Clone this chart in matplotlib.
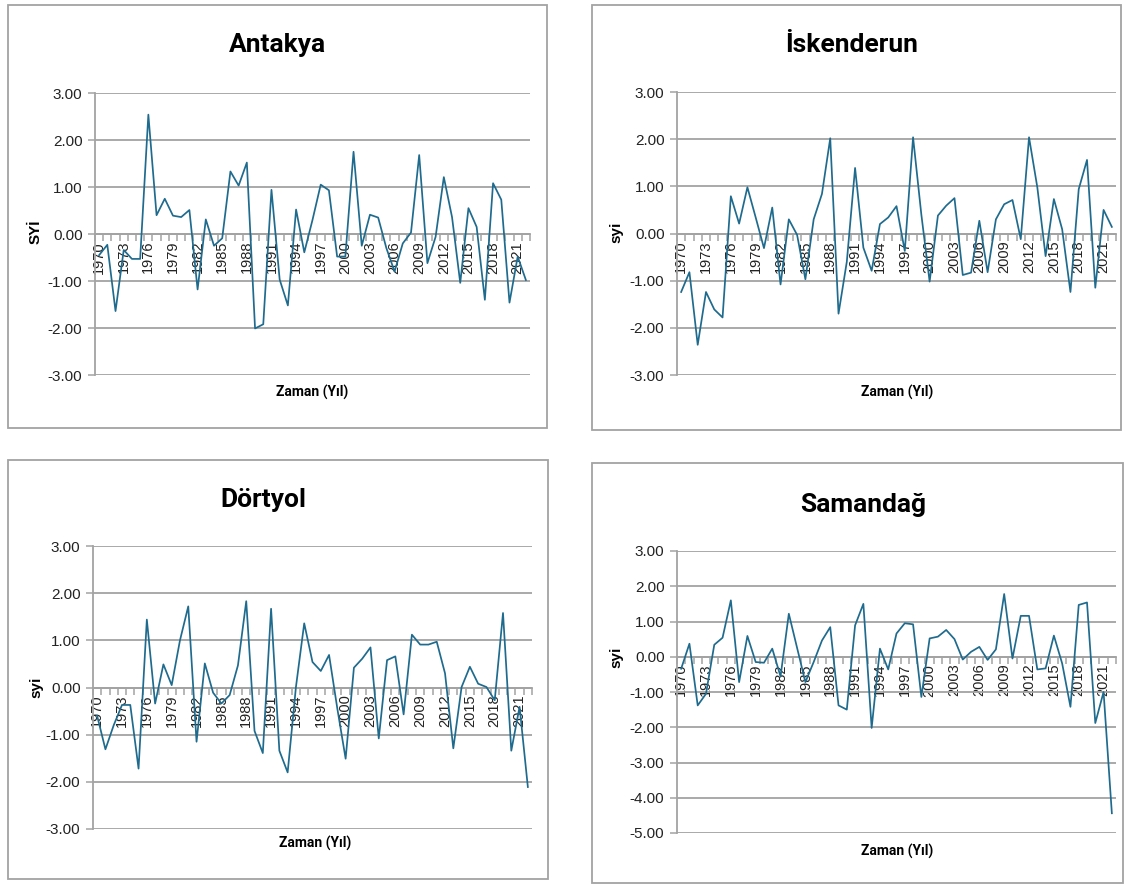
import matplotlib
matplotlib.use("Agg")
import matplotlib.pyplot as plt
from matplotlib.patches import Rectangle
from matplotlib.ticker import MultipleLocator, FixedLocator, NullFormatter

# Yearly SYI values (1970-2022)
years = list(range(1970, 2023))

antakya = [-0.45, -0.23, -1.64, -0.34, -0.53, -0.53, 2.54, 0.40, 0.75, 0.39,
           0.36, 0.51, -1.18, 0.31, -0.25, -0.09, 1.33, 1.03, 1.52, -2.01,
           -1.92, 0.94, -0.97, -1.52, 0.52, -0.39, 0.30, 1.05, 0.93, -0.48,
           -0.48, 1.75, -0.25, 0.41, 0.35, -0.30, -0.80, -0.20, 0.03, 1.68,
           -0.62, -0.06, 1.21, 0.36, -1.04, 0.55, 0.15, -1.40, 1.08, 0.73,
           -1.46, -0.48, -0.98]

iskenderun = [-1.24, -0.82, -2.36, -1.24, -1.61, -1.78, 0.79, 0.21, 0.98, 0.34,
              -0.31, 0.55, -1.08, 0.30, -0.03, -0.97, 0.30, 0.84, 2.02, -1.70,
              -0.60, 1.39, -0.30, -0.79, 0.20, 0.34, 0.58, -0.37, 2.04, 0.40,
              -1.02, 0.38, 0.59, 0.75, -0.88, -0.83, 0.27, -0.82, 0.30, 0.62,
              0.71, -0.12, 2.04, 0.98, -0.48, 0.73, 0.09, -1.24, 0.94, 1.56,
              -1.15, 0.50, 0.14]

dortyol = [-0.60, -1.31, -0.80, -0.37, -0.37, -1.72, 1.44, -0.34, 0.49, 0.05,
           1.00, 1.72, -1.15, 0.51, -0.11, -0.34, -0.16, 0.47, 1.83, -0.92,
           -1.39, 1.67, -1.34, -1.80, 0.01, 1.36, 0.54, 0.35, 0.69, -0.45,
           -1.51, 0.42, 0.61, 0.85, -1.08, 0.58, 0.66, -0.57, 1.12, 0.91,
           0.91, 0.97, 0.30, -1.29, 0.01, 0.44, 0.08, 0.01, -0.27, 1.58,
           -1.34, -0.41, -2.11]

samandag = [-0.34, 0.37, -1.38, -1.05, 0.34, 0.54, 1.60, -0.72, 0.59, -0.15,
            -0.17, 0.23, -0.56, 1.22, 0.25, -0.72, -0.15, 0.46, 0.84, -1.38,
            -1.50, 0.89, 1.50, -2.02, 0.23, -0.36, 0.66, 0.95, 0.92, -1.14,
            0.52, 0.57, 0.76, 0.50, -0.08, 0.14, 0.28, -0.09, 0.21, 1.78,
            -0.05, 1.16, 1.16, -0.36, -0.33, 0.60, -0.19, -1.42, 1.47, 1.54,
            -1.88, -1.00, -4.44]

W, H = 1125, 884
LINE = "#1f6b8e"
GRID = "#a3a3a3"
NARROW = ["Liberation Sans Narrow", "DejaVu Sans Condensed", "Roboto", "DejaVu Sans"]
plt.rcParams["font.family"] = ["Liberation Sans", "DejaVu Sans"]

fig = plt.figure(figsize=(W / 100, H / 100), dpi=100)


def px_rect(left, top, right, bottom):
    return [left / W, 1 - bottom / H, (right - left) / W, (bottom - top) / H]


def box(left, top, right, bottom):
    fig.patches.append(Rectangle((left / W, 1 - bottom / H), (right - left) / W,
                                 (bottom - top) / H, transform=fig.transFigure,
                                 fill=False, edgecolor=GRID, linewidth=1.3))


def panel(rect, values, title, ylabel, ylim, title_xy, xlabel_xy, ylabel_xy):
    ax = fig.add_axes(px_rect(*rect))
    n = len(values)
    ax.plot(range(n), values, color=LINE, linewidth=1.25, zorder=3)
    ax.set_xlim(-0.5, n - 0.5)
    ax.set_ylim(*ylim)

    ax.yaxis.set_major_locator(MultipleLocator(1))
    ax.yaxis.set_major_formatter(lambda v, _: f"{v:.2f}")
    ax.grid(axis="y", color=GRID, linewidth=1.3)
    ax.set_axisbelow(True)

    # category axis crosses at zero, labels every third year
    ax.spines["bottom"].set_position(("data", 0))
    ax.spines["bottom"].set_color(GRID)
    ax.spines["bottom"].set_linewidth(1.3)
    ax.spines["left"].set_color(GRID)
    ax.spines["left"].set_linewidth(1.3)
    ax.spines["top"].set_visible(False)
    ax.spines["right"].set_visible(False)

    ax.set_xticks(range(0, n, 3))
    ax.set_xticklabels([str(years[i]) for i in range(0, n, 3)], rotation=90)
    ax.xaxis.set_minor_locator(FixedLocator([i - 0.5 for i in range(n + 1)]))
    ax.xaxis.set_minor_formatter(NullFormatter())
    ax.tick_params(axis="x", which="major", length=0, pad=5, labelsize=10.5,
                   labelcolor="#222222")
    ax.tick_params(axis="x", which="minor", length=5, color=GRID, width=1.1)
    ax.tick_params(axis="y", length=5, color=GRID, width=1.1, labelsize=11,
                   labelcolor="#222222", pad=4)

    fig.text(title_xy[0] / W, 1 - title_xy[1] / H, title, ha="center",
             va="center", fontsize=19, fontweight="bold", family=NARROW)
    fig.text(xlabel_xy[0] / W, 1 - xlabel_xy[1] / H, "Zaman (Yıl)",
             ha="center", va="center", fontsize=10, fontweight="bold",
             family=NARROW)
    fig.text(ylabel_xy[0] / W, 1 - ylabel_xy[1] / H, ylabel, ha="center",
             va="center", rotation=90, fontsize=11, fontweight="bold")
    return ax


box(8, 5, 547, 428)
box(592, 5, 1121, 430)
box(8, 460, 548, 879)
box(592, 463, 1123, 883)

panel((95, 93, 530, 375), antakya, "Antakya", "SYİ", (-3, 3),
      (277, 45), (312, 392), (36, 232))
panel((677, 92, 1116, 375), iskenderun, "İskenderun", "syi", (-3, 3),
      (852, 45), (897, 392), (616, 232))
panel((93, 546, 532, 829), dortyol, "Dörtyol", "syi", (-3, 3),
      (263, 500), (315, 843), (36, 687))
panel((677, 551, 1116, 833), samandag, "Samandağ", "syi", (-5, 3),
      (863, 505), (897, 851), (616, 657))

fig.savefig("out.png", dpi=100)
